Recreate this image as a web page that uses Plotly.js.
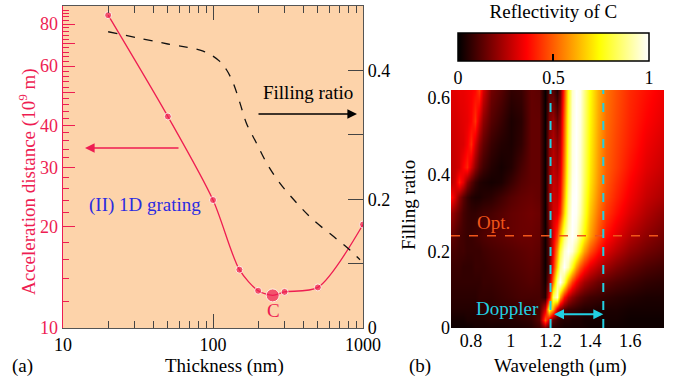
<!DOCTYPE html>
<html><head><meta charset="utf-8">
<script src="https://cdn.plot.ly/plotly-3.0.1.min.js"></script>
<style>html,body{margin:0;padding:0;background:#fff}#c{width:676px;height:381px}</style>
</head><body><div id="c"></div>
<script>
// ---------- Panel (a) data ----------
const thickness = [20, 50, 100, 150, 200, 250, 300, 500, 1000];          // nm
const accelDistance = [85, 42.5, 24, 14.9, 12.9, 12.5, 12.8, 13.2, 20.3];  // 10^9 m
const optIndex = 5; // point "C"
const frThickness = [20, 50, 86, 111, 123, 136, 151, 167, 195, 228, 279, 362, 465, 637, 818, 955];
const frValues = [0.46, 0.441, 0.43, 0.414, 0.401, 0.381, 0.35, 0.318, 0.287, 0.256, 0.225, 0.194, 0.168, 0.142, 0.121, 0.106];

// ---------- Panel (b) data ----------
const wavelengths = [0.70,0.72,0.74,0.76,0.78,0.80,0.82,0.84,0.86,0.90,0.95,1.00,1.05,1.10,1.14,
  1.17,1.19,1.21,1.23,1.25,1.27,1.29,1.31,1.33,1.35,1.37,1.40,1.44,1.48,1.53,1.60,1.68,1.77];
const fillingRatios = [0, 0.02, 0.05, 0.08, 0.12, 0.16, 0.20, 0.24, 0.30, 0.34, 0.38, 0.42, 0.48, 0.54, 0.62];
const reflectivity = [
 [0.02,0.02,0.02,0.02,0.02,0.02,0.03,0.03,0.03,0.03,0.03,0.04,0.04,0.05,0.08, 0.15,0.08,0.05,0.04,0.04,0.03,0.03,0.03,0.03,0.03,0.03,0.02,0.02,0.02,0.02,0.02,0.02,0.02],
 [0.03,0.03,0.03,0.03,0.04,0.04,0.04,0.04,0.04,0.05,0.05,0.05,0.06,0.07,0.12, 0.5,0.3,0.12,0.08,0.06,0.05,0.05,0.04,0.04,0.04,0.03,0.03,0.03,0.03,0.03,0.02,0.02,0.02],
 [0.05,0.05,0.05,0.05,0.05,0.05,0.05,0.06,0.06,0.06,0.07,0.07,0.08,0.08,0.1, 0.3,0.8,0.6,0.3,0.18,0.12,0.09,0.08,0.07,0.06,0.05,0.05,0.04,0.04,0.04,0.03,0.03,0.03],
 [0.06,0.06,0.06,0.06,0.06,0.06,0.06,0.07,0.07,0.07,0.08,0.09,0.1,0.1,0.1, 0.05,0.35,0.85,0.95,0.6,0.38,0.26,0.2,0.16,0.13,0.11,0.09,0.08,0.07,0.06,0.05,0.04,0.04],
 [0.07,0.07,0.07,0.07,0.07,0.07,0.07,0.07,0.08,0.08,0.09,0.1,0.11,0.12,0.11, 0.03,0.2,0.55,0.88,1.0,0.82,0.6,0.45,0.35,0.28,0.23,0.19,0.15,0.13,0.11,0.09,0.07,0.06],
 [0.08,0.08,0.08,0.07,0.07,0.07,0.08,0.08,0.08,0.09,0.1,0.11,0.12,0.13,0.12, 0.02,0.13,0.4,0.68,0.9,1.0,0.92,0.76,0.6,0.48,0.4,0.32,0.26,0.22,0.18,0.14,0.11,0.09],
 [0.1,0.1,0.09,0.09,0.08,0.08,0.08,0.08,0.09,0.1,0.11,0.12,0.13,0.14,0.13, 0.02,0.14,0.35,0.58,0.8,0.95,1.0,0.96,0.85,0.72,0.6,0.48,0.38,0.31,0.26,0.2,0.16,0.13],
 [0.14,0.12,0.1,0.09,0.08,0.08,0.09,0.1,0.11,0.12,0.13,0.14,0.15,0.15,0.14, 0.02,0.15,0.32,0.45,0.65,0.85,0.96,1.0,0.96,0.85,0.74,0.6,0.48,0.38,0.32,0.25,0.2,0.16],
 [0.22,0.18,0.14,0.1,0.08,0.07,0.07,0.08,0.09,0.1,0.12,0.14,0.15,0.16,0.15, 0.01,0.2,0.3,0.32,0.42,0.68,0.9,1.0,0.99,0.92,0.8,0.65,0.53,0.44,0.38,0.31,0.25,0.2],
 [0.38,0.3,0.2,0.13,0.08,0.05,0.04,0.04,0.05,0.06,0.09,0.12,0.14,0.15,0.14, 0.01,0.22,0.29,0.28,0.36,0.62,0.87,0.99,1.0,0.94,0.82,0.68,0.56,0.47,0.41,0.34,0.28,0.24],
 [0.26,0.3,0.4,0.32,0.2,0.13,0.08,0.05,0.04,0.03,0.04,0.08,0.12,0.14,0.14, 0.01,0.21,0.28,0.26,0.33,0.58,0.84,0.98,1.0,0.95,0.84,0.7,0.58,0.49,0.43,0.36,0.3,0.26],
 [0.27,0.28,0.3,0.36,0.41,0.3,0.2,0.13,0.09,0.05,0.03,0.05,0.1,0.14,0.14, 0.01,0.2,0.27,0.23,0.3,0.55,0.82,0.97,1.0,0.95,0.85,0.71,0.59,0.5,0.45,0.38,0.32,0.28],
 [0.28,0.29,0.3,0.31,0.35,0.42,0.3,0.2,0.14,0.08,0.05,0.04,0.07,0.14,0.14, 0.01,0.2,0.25,0.2,0.26,0.52,0.8,0.97,1.0,0.96,0.86,0.72,0.6,0.51,0.46,0.4,0.34,0.3],
 [0.3,0.3,0.31,0.32,0.33,0.36,0.43,0.3,0.2,0.12,0.08,0.04,0.06,0.14,0.14, 0.01,0.18,0.22,0.15,0.22,0.5,0.78,0.96,1.0,0.97,0.87,0.73,0.61,0.52,0.47,0.41,0.36,0.32],
 [0.32,0.32,0.33,0.33,0.34,0.35,0.37,0.44,0.3,0.16,0.12,0.07,0.08,0.14,0.13, 0.01,0.12,0.12,0.05,0.15,0.45,0.75,0.95,1.0,0.98,0.88,0.74,0.62,0.53,0.48,0.42,0.38,0.34]
];
const optFillingRatio = 0.24;
const dopplerRange = [1.2, 1.465];

// ---------- styling ----------
const RED = '#ee1d52', BLUE = '#2b2be0', CYAN = '#22d0e2', ORANGE = '#f0551a';
const SERIF = 'Liberation Serif';
const W = 676, H = 381;
const px = v => v / W, py = v => (H - v) / H;
const TICK = 18, LBL = 19;

const yMinor = [];
for (let v = 12; v <= 90; v += 2) if (v % 10 !== 0) yMinor.push(v);
const xMinor = [];
for (let d = 10; d < 1000; d *= 10) for (let k = 2; k <= 9; k++) xMinor.push(k * d);

const sizes = thickness.map((_, i) => i === optIndex ? 13 : 7);
function fnt(size, color) { return { family: SERIF, size: size, color: color || '#000000' }; }

const traces = [
  { type: 'scatter', mode: 'lines', x: frThickness, y: frValues, xaxis: 'x', yaxis: 'y2',
    line: { color: '#111', width: 1.3, dash: 'dash', shape: 'spline' }, hoverinfo: 'skip' },
  { type: 'scatter', mode: 'lines+markers', x: thickness, y: accelDistance, xaxis: 'x', yaxis: 'y',
    line: { color: RED, width: 1.3, shape: 'spline', smoothing: 0.8 },
    marker: { color: RED, size: sizes } },
  { type: 'heatmap', x: wavelengths, y: fillingRatios, z: reflectivity, xaxis: 'x3', yaxis: 'y3',
    zmin: 0, zmax: 1, zsmooth: 'best',
    colorscale: [[0, '#000000'], [0.36, '#ff0000'], [0.74, '#ffff00'], [1, '#ffffff']],
    colorbar: { orientation: 'h', x: px(553.4), xanchor: 'center', xref: 'paper',
      y: py(12), yanchor: 'top', yref: 'paper', len: 191 / W, lenmode: 'fraction',
      thickness: 28, thicknessmode: 'pixels', outlinecolor: '#000', outlinewidth: 1.5,
      tickvals: [0, 0.5, 1], ticks: 'inside', ticklen: 7, tickcolor: '#000', tickwidth: 2,
      tickfont: fnt(TICK), xpad: 0, ypad: 0,
      title: { text: 'Reflectivity of C', side: 'top', font: fnt(LBL) } } }
];

function txt(x, y, text, font, angle) {
  return { xref: 'paper', yref: 'paper', x: px(x), y: py(y), text: text, showarrow: false,
    xanchor: 'center', yanchor: 'middle', textangle: angle || 0, font: font };
}

const layout = {
  width: W, height: H, margin: { l: 0, r: 0, t: 0, b: 0 },
  paper_bgcolor: '#fff', plot_bgcolor: '#fdd3aa', showlegend: false,
  font: { family: SERIF, size: TICK, color: '#000000' },
  xaxis: { type: 'log', domain: [px(63), px(363)], range: [1, 3], anchor: 'y',
    tickvals: [10, 100, 1000], ticks: 'inside', ticklen: 14, tickcolor: '#444', tickfont: fnt(TICK),
    showline: true, linecolor: '#555', linewidth: 1, mirror: 'ticks',
    minor: { tickvals: xMinor, ticks: 'inside', ticklen: 7, tickcolor: '#444' },
    showgrid: false, zeroline: false, automargin: false },
  yaxis: { type: 'log', domain: [py(328), py(6)], range: [1, Math.log10(90.5)], anchor: 'x',
    tickvals: [10, 20, 30, 40, 50, 60, 70, 80], ticktext: ['10', '20', '30', '40', '', '60', '', '80'],
    ticks: 'inside', ticklen: 12, tickcolor: RED, tickfont: fnt(TICK, RED),
    showline: true, linecolor: RED, linewidth: 1.5,
    minor: { tickvals: yMinor, ticks: 'inside', ticklen: 6, tickcolor: RED },
    showgrid: false, zeroline: false, automargin: false },
  yaxis2: { overlaying: 'y', side: 'right', anchor: 'x', range: [0, 0.5],
    tickvals: [0, 0.2, 0.4], ticks: 'inside', ticklen: 15, tickcolor: '#444', tickfont: fnt(TICK),
    minor: { tickvals: [0.1, 0.3], ticks: 'inside', ticklen: 15, tickcolor: '#444' },
    showline: true, linecolor: '#555', linewidth: 1.2,
    showgrid: false, zeroline: false, automargin: false },
  xaxis3: { domain: [px(451), px(664)], anchor: 'y3', range: [0.7, 1.77],
    tickvals: [0.8, 1, 1.2, 1.4, 1.6], ticktext: ['0.8', '1', '1.2', '1.4', '1.6'], ticks: '', tickfont: fnt(TICK),
    showline: false, showgrid: false, zeroline: false, automargin: false },
  yaxis3: { domain: [py(328), py(90)], anchor: 'x3', range: [0, 0.62],
    tickvals: [0, 0.2, 0.4, 0.6], ticktext: ['0', '0.2', '0.4', '0.6'], ticks: '', tickfont: fnt(TICK),
    showline: false, showgrid: false, zeroline: false, automargin: false },
  shapes: [
    { type: 'line', xref: 'x3', yref: 'y3', x0: 0.7, x1: 1.77, y0: optFillingRatio, y1: optFillingRatio,
      line: { color: ORANGE, width: 1.5, dash: 'dash' } },
    { type: 'line', xref: 'x3', yref: 'y3', x0: dopplerRange[0], x1: dopplerRange[0], y0: 0, y1: 0.62,
      line: { color: CYAN, width: 2, dash: 'dash' } },
    { type: 'line', xref: 'x3', yref: 'y3', x0: dopplerRange[1], x1: dopplerRange[1], y0: 0, y1: 0.62,
      line: { color: CYAN, width: 2, dash: 'dash' } }
  ],
  annotations: [
    txt(27, 182, 'Acceleration distance (10<sup>9</sup> m)', fnt(LBL, RED), -90),
    txt(224, 366, 'Thickness (nm)', fnt(LBL)),
    txt(22, 366, '(a)', fnt(LBL)),
    txt(420, 366, '(b)', fnt(LBL)),
    txt(560, 366, 'Wavelength (\u03bcm)', fnt(LBL)),
    txt(408, 205, 'Filling ratio', fnt(LBL), -90),
    txt(308, 92, 'Filling ratio', fnt(LBL)),
    txt(145, 205, '(II) 1D grating', fnt(LBL, BLUE)),
    txt(273, 310, 'C', fnt(LBL, RED)),
    txt(493, 222, 'Opt.', fnt(LBL, ORANGE)),
    txt(507, 308, 'Doppler', fnt(LBL, CYAN)),
    { xref: 'paper', yref: 'paper', x: px(357), y: py(114), ax: -100, ay: 0, axref: 'pixel', ayref: 'pixel', text: '',
      showarrow: true, arrowhead: 2, arrowsize: 1.2, arrowwidth: 1.6, arrowcolor: '#000' },
    { xref: 'paper', yref: 'paper', x: px(85), y: py(148), ax: 95, ay: 0, axref: 'pixel', ayref: 'pixel', text: '',
      showarrow: true, arrowhead: 2, arrowsize: 1.2, arrowwidth: 1.6, arrowcolor: RED },
    { xref: 'x3', yref: 'y3', x: dopplerRange[1], y: 0.036, ax: dopplerRange[0] + 0.01, ay: 0.036, axref: 'x3', ayref: 'y3',
      text: '', showarrow: true, arrowhead: 2, startarrowhead: 2, arrowside: 'end+start', arrowsize: 1, arrowwidth: 2, arrowcolor: CYAN }
  ]
};

Plotly.newPlot('c', traces, layout, { staticPlot: true });
</script></body></html>
